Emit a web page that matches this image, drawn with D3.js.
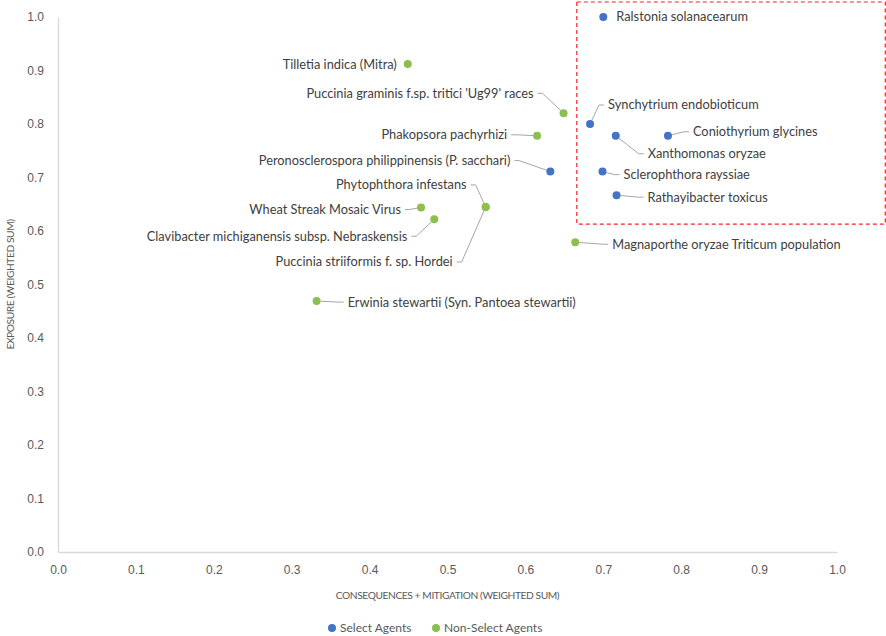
<!DOCTYPE html>
<html>
<head>
<meta charset="utf-8">
<script src="https://cdn.jsdelivr.net/npm/d3@7"></script>
<style>
  body { margin: 0; background: #fff; }
  svg { display: block; font-family: Lato, "Open Sans", sans-serif; }
</style>
</head>
<body>
<div id="chart"></div>
<script>
const selectNames = [
  'Ralstonia solanacearum', 'Synchytrium endobioticum', 'Xanthomonas oryzae',
  'Coniothyrium glycines', 'Peronosclerospora philippinensis (P. sacchari)',
  'Sclerophthora rayssiae', 'Rathayibacter toxicus'
];
const selectX = [0.70, 0.683, 0.716, 0.783, 0.632, 0.699, 0.717];
const selectY = [1.00, 0.80, 0.778, 0.778, 0.711, 0.711, 0.667];

const nonSelectNames = [
  'Tilletia indica (Mitra)', "Puccinia graminis f.sp. tritici 'Ug99' races",
  'Phakopsora pachyrhizi', 'Wheat Streak Mosaic Virus',
  'Clavibacter michiganensis subsp. Nebraskensis', 'Phytophthora infestans',
  'Puccinia striiformis f. sp. Hordei', 'Magnaporthe oryzae Triticum population',
  'Erwinia stewartii (Syn. Pantoea stewartii)'
];
const nonSelectX = [0.449, 0.649, 0.615, 0.466, 0.483, 0.549, 0.549, 0.664, 0.332];
const nonSelectY = [0.912, 0.820, 0.778, 0.644, 0.622, 0.645, 0.645, 0.579, 0.469];

const xTicks = [0, 0.1, 0.2, 0.3, 0.4, 0.5, 0.6, 0.7, 0.8, 0.9, 1.0];
const yTicks = [0, 0.1, 0.2, 0.3, 0.4, 0.5, 0.6, 0.7, 0.8, 0.9, 1.0];

const seriesNames = ['Select Agents', 'Non-Select Agents'];
const seriesColors = ['#4472c4', '#8dbf4e'];

// label placement (pixel offset from the marker, text anchor, leader line)
const labelLayout = {
  'Ralstonia solanacearum': [13, 0, 'start', false],
  'Tilletia indica (Mitra)': [-11, 0, 'end', false],
  "Puccinia graminis f.sp. tritici 'Ug99' races": [-30, -20, 'end', true],
  'Synchytrium endobioticum': [18, -19, 'start', true],
  'Phakopsora pachyrhizi': [-30, -1, 'end', true],
  'Xanthomonas oryzae': [32, 18, 'start', true],
  'Coniothyrium glycines': [25, -4, 'start', true],
  'Peronosclerospora philippinensis (P. sacchari)': [-40, -11, 'end', true],
  'Sclerophthora rayssiae': [21, 3, 'start', true],
  'Rathayibacter toxicus': [31, 2, 'start', true],
  'Wheat Streak Mosaic Virus': [-20, 2, 'end', true],
  'Clavibacter michiganensis subsp. Nebraskensis': [-27, 17, 'end', true],
  'Phytophthora infestans': [-19, -22, 'end', true],
  'Puccinia striiformis f. sp. Hordei': [-33, 55, 'end', true],
  'Magnaporthe oryzae Triticum population': [37, 2, 'start', true],
  'Erwinia stewartii (Syn. Pantoea stewartii)': [31, 1, 'start', true]
};

const width = 886, height = 636;
const margin = {top: 17, right: 49, bottom: 84, left: 58};
const plotW = width - margin.left - margin.right;
const plotH = height - margin.top - margin.bottom;

const svg = d3.select('#chart').append('svg').attr('width', width).attr('height', height);
const g = svg.append('g').attr('transform', `translate(${margin.left},${margin.top})`);

const x = d3.scaleLinear().domain([0, 1]).range([0, plotW]);
const y = d3.scaleLinear().domain([0, 1]).range([plotH, 0]);

const points = [];
selectNames.forEach((n, i) => points.push({name: n, x: selectX[i], y: selectY[i], s: 0}));
nonSelectNames.forEach((n, i) => points.push({name: n, x: nonSelectX[i], y: nonSelectY[i], s: 1}));

// axes
const xAxis = g.append('g').attr('transform', `translate(0,${plotH})`)
  .call(d3.axisBottom(x).tickValues(xTicks).tickFormat(d3.format('.1f')).tickSize(0).tickPadding(13));
const yAxis = g.append('g')
  .call(d3.axisLeft(y).tickValues(yTicks).tickFormat(d3.format('.1f')).tickSize(0).tickPadding(14));
[xAxis, yAxis].forEach(a => {
  a.select('.domain').attr('stroke', '#d9d9d9').attr('stroke-width', 1.3);
  a.selectAll('text').attr('fill', '#595959').style('font-size', '12px');
});

// red dashed highlight box
g.append('rect')
  .attr('x', x(0.666)).attr('y', y(1.028))
  .attr('width', x(1.062) - x(0.666)).attr('height', y(0.613) - y(1.028))
  .attr('fill', 'none').attr('stroke', '#ff2020').attr('stroke-width', 1.2)
  .attr('stroke-dasharray', '4,3');

// leader lines
const r = 4;
points.forEach(p => {
  const [dx, dy, anchor, leader] = labelLayout[p.name];
  if (!leader) return;
  const px = x(p.x), py = y(p.y);
  const side = anchor === 'start' ? -1 : 1;
  const sx = px + dx + side * 4, ex = sx + side * 5, ey = py + dy;
  const ang = Math.atan2(ey - py, ex - px);
  g.append('polyline')
    .attr('points', `${sx},${ey} ${ex},${ey} ${px + Math.cos(ang) * r},${py + Math.sin(ang) * r}`)
    .attr('fill', 'none').attr('stroke', '#a6a6a6').attr('stroke-width', 1);
});

// markers
g.selectAll('circle.pt').data(points).enter().append('circle')
  .attr('class', 'pt')
  .attr('cx', d => x(d.x)).attr('cy', d => y(d.y)).attr('r', r)
  .attr('fill', d => seriesColors[d.s]);

// labels
g.selectAll('text.lbl').data(points).enter().append('text')
  .attr('class', 'lbl')
  .attr('x', d => x(d.x) + labelLayout[d.name][0])
  .attr('y', d => y(d.y) + labelLayout[d.name][1])
  .attr('dy', '0.35em')
  .attr('text-anchor', d => labelLayout[d.name][2])
  .attr('fill', '#404040').style('font-size', '12.8px')
  .text(d => d.name);

// axis titles
svg.append('text')
  .attr('x', margin.left + plotW / 2).attr('y', 595).attr('dy', '0.35em')
  .attr('text-anchor', 'middle').attr('fill', '#595959')
  .style('font-size', '10.2px').style('letter-spacing', '-0.4px')
  .text('CONSEQUENCES + MITIGATION (WEIGHTED SUM)');
svg.append('text')
  .attr('transform', `translate(10,${margin.top + plotH / 2}) rotate(-90)`)
  .attr('dy', '0.35em')
  .attr('text-anchor', 'middle').attr('fill', '#595959')
  .style('font-size', '10.2px').style('letter-spacing', '-0.4px')
  .text('EXPOSURE (WEIGHTED SUM)');

// legend
const legend = svg.append('g').attr('transform', 'translate(332,628)');
const legendX = [0, 104];
seriesNames.forEach((n, i) => {
  const item = legend.append('g').attr('transform', `translate(${legendX[i]},0)`);
  item.append('circle').attr('r', 4).attr('fill', seriesColors[i]);
  item.append('text').attr('x', 8).attr('dy', '0.35em')
    .attr('fill', '#595959').style('font-size', '12px').text(n);
});
</script>
</body>
</html>
